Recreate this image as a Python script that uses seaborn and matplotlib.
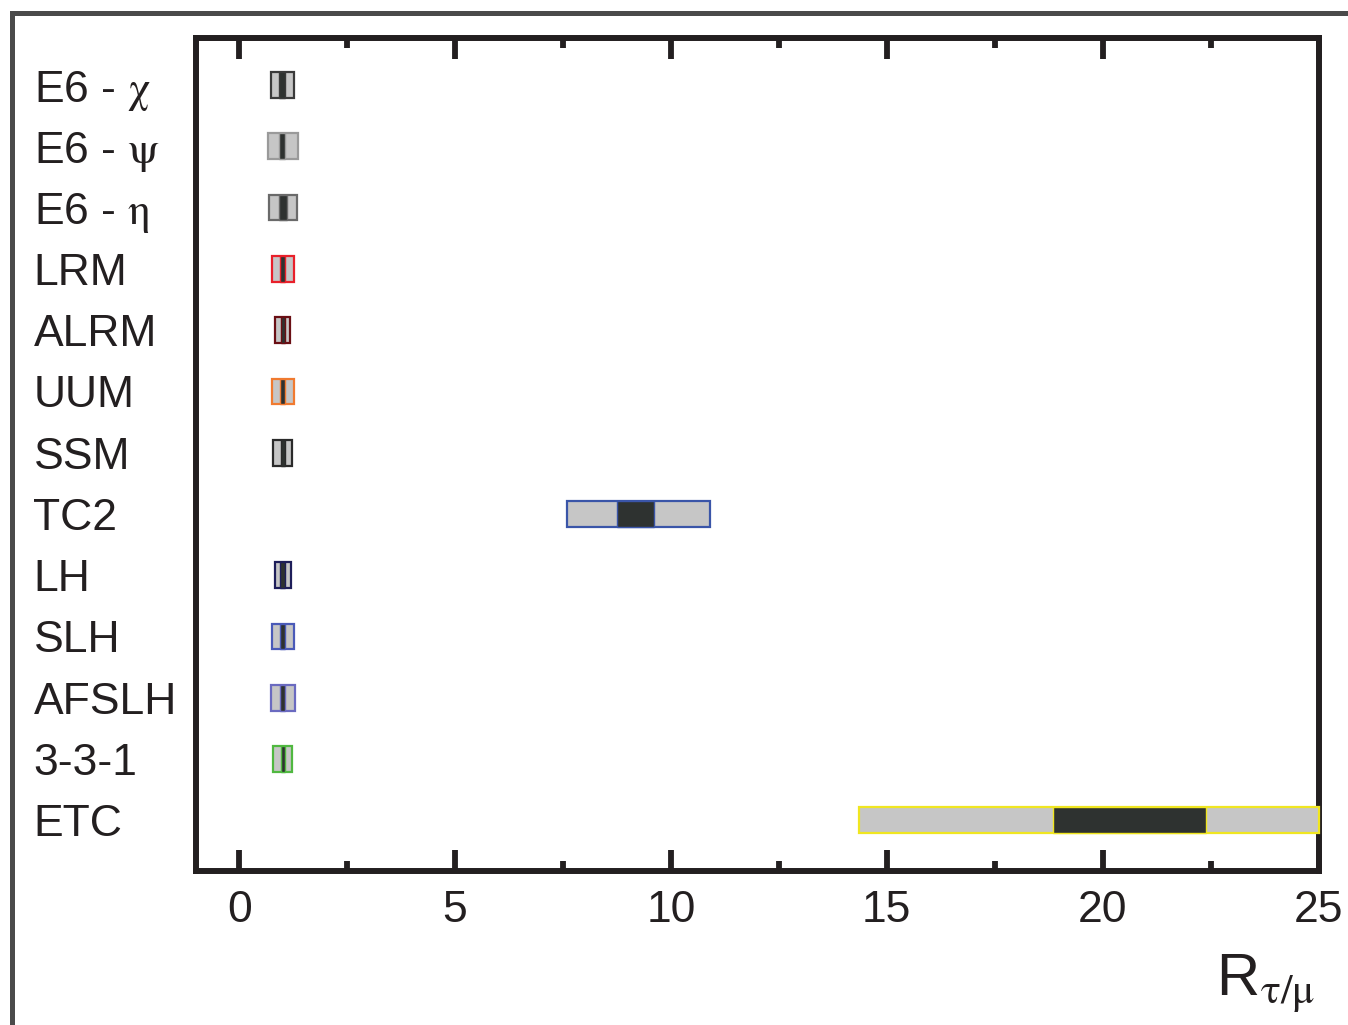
import matplotlib
matplotlib.use("Agg")
import matplotlib.pyplot as plt
import seaborn as sns
import numpy as np
from matplotlib.lines import Line2D
from matplotlib.ticker import MultipleLocator

# ---- data ----
models = ["E6 - $\\mathrm{\\chi}$", "E6 - $\\mathrm{\\psi}$", "E6 - $\\mathrm{\\eta}$", "LRM", "ALRM", "UUM",
          "SSM", "TC2", "LH", "SLH", "AFSLH", "3-3-1", "ETC"]
outer_lo = [0.74, 0.66, 0.68, 0.76, 0.84, 0.76, 0.79, 7.59, 0.84, 0.76, 0.73, 0.79, 14.36]
outer_hi = [1.27, 1.36, 1.34, 1.26, 1.18, 1.27, 1.22, 10.91, 1.19, 1.27, 1.29, 1.23, 25.0]
inner_lo = [0.92, 0.93, 0.92, 0.95, 0.96, 0.95, 0.96, 8.74, 0.95, 0.95, 0.95, 0.96, 18.85]
inner_hi = [1.07, 1.06, 1.10, 1.05, 1.06, 1.05, 1.07, 9.60, 1.07, 1.06, 1.07, 1.05, 22.40]
edge_colors = ["#3a3a3a", "#9a9a9a", "#6a6a6a", "#e8202a", "#6a0f14", "#f07a30",
               "#2a2a2a", "#3a55a8", "#1e1e5a", "#4a5ab8", "#6a6ac0", "#50b840", "#f0e620"]
x_ticks = [0, 5, 10, 15, 20, 25]

sns.set_theme(style="white")
plt.rcParams['font.family'] = ['Liberation Sans', 'DejaVu Sans']
plt.rcParams['mathtext.fontset'] = 'stix'

fig = plt.figure(figsize=(13.48, 10.25), dpi=100)
fig.patch.set_facecolor("white")
ax = fig.add_axes([196/1348, 1 - 870.5/1025, (1318.5-196)/1348, (870.5-38.5)/1025])
ax.set_facecolor("white")

y = np.arange(len(models))
lo = np.array(outer_lo); hi = np.array(outer_hi)
ilo = np.array(inner_lo); ihi = np.array(inner_hi)
ax.barh(y, hi - lo, left=lo, height=0.42, color="#c6c6c6", edgecolor=edge_colors,
        linewidth=1.6, zorder=6, clip_on=False)
ax.barh(y, ihi - ilo, left=ilo, height=0.42, color="#2e3230", edgecolor=edge_colors,
        linewidth=1.0, zorder=7)

ax.set_xlim(-1, 25)
ax.set_ylim(12.82, -0.76)
ax.set_xticks(x_ticks)
ax.set_xticklabels([str(t) for t in x_ticks])
ax.xaxis.set_minor_locator(MultipleLocator(2.5))
ax.tick_params(axis='x', which='major', direction='in', length=15, width=4.2,
               top=True, bottom=True, labelsize=32, pad=14, color="#231f20",
               labelcolor="#231f20")
ax.tick_params(axis='x', which='minor', direction='in', length=7, width=4.2,
               top=True, bottom=True, color="#231f20")
ax.set_yticks(y)
ax.set_yticklabels(models)
ax.tick_params(axis='y', which='both', length=0, labelsize=32, pad=117, labelcolor="#231f20")
for lab in ax.get_yticklabels():
    lab.set_horizontalalignment('left')

for s in ax.spines.values():
    s.set_visible(True)
    s.set_linewidth(4.3)
    s.set_color("#231f20")
    s.set_zorder(5)

fig.text(1315/1348, 1 - 996/1025, r'R$_{\mathrm{\tau/\mu}}$', ha='right', va='baseline',
         fontsize=43, color="#231f20")

# outer frame lines (top and left)
fig.add_artist(Line2D([12.5/1348, 12.5/1348], [0, 1 - 12.5/1025], transform=fig.transFigure,
                      color="#4a4a4a", linewidth=3.6, solid_capstyle='projecting'))
fig.add_artist(Line2D([12.5/1348, 1], [1 - 12.5/1025, 1 - 12.5/1025], transform=fig.transFigure,
                      color="#4a4a4a", linewidth=3.6, solid_capstyle='projecting'))

fig.savefig("out.png", dpi=100, facecolor="white")
